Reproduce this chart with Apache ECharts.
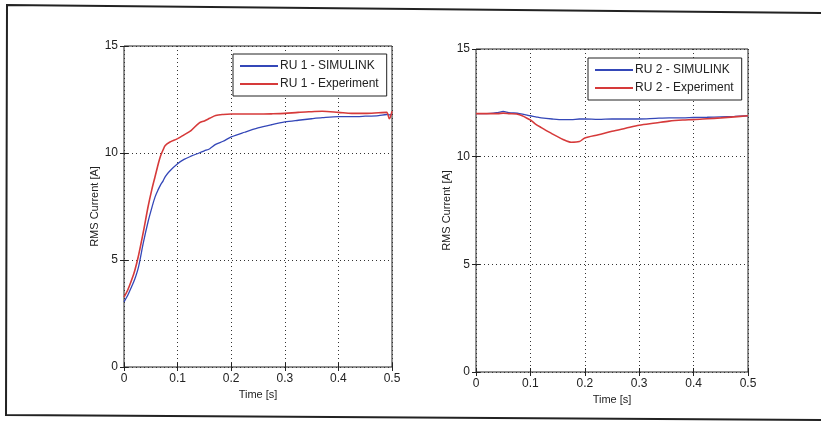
<!DOCTYPE html>
<html lang="en">
<head>
    <meta charset="UTF-8">
    <title>RMS Current</title>
    <style>
        body { margin: 0; padding: 0; background: #ffffff; }
        #chart { width: 821px; height: 422px; }
    </style>
</head>
<body>
    <div id="chart"></div>
    <script src="https://cdn.jsdelivr.net/npm/echarts@6/dist/echarts.min.js"></script>
    <script>
        // left panel (RU 1)
        var time1 = [0, 0.007, 0.014, 0.02, 0.027, 0.036, 0.045, 0.052, 0.058, 0.064, 0.068, 0.073, 0.077, 0.085,
            0.1, 0.112, 0.125, 0.14, 0.15, 0.16, 0.171, 0.185, 0.2, 0.225, 0.25, 0.275, 0.3, 0.325, 0.35, 0.37,
            0.4, 0.425, 0.45, 0.475, 0.49, 0.495, 0.5];
        var ru1Sim = [3.04, 3.35, 3.74, 4.1, 4.67, 5.8, 6.8, 7.45, 7.95, 8.3, 8.5, 8.7, 8.9, 9.15,
            9.5, 9.7, 9.85, 10.0, 10.1, 10.2, 10.4, 10.55, 10.75, 10.97, 11.17, 11.32, 11.45, 11.53, 11.6, 11.65,
            11.7, 11.7, 11.72, 11.75, 11.8, 11.78, 11.82];
        var ru1Exp = [3.27, 3.6, 4.05, 4.5, 5.2, 6.3, 7.5, 8.3, 8.9, 9.5, 9.85, 10.15, 10.35, 10.5,
            10.67, 10.85, 11.05, 11.4, 11.5, 11.62, 11.75, 11.8, 11.82, 11.82, 11.82, 11.83, 11.85, 11.9, 11.93, 11.95,
            11.9, 11.85, 11.85, 11.88, 11.9, 11.6, 11.95];

        // right panel (RU 2)
        var time2 = [0, 0.02, 0.04, 0.05, 0.06, 0.08, 0.1, 0.11, 0.12, 0.14, 0.16, 0.175, 0.19, 0.2,
            0.225, 0.25, 0.275, 0.3, 0.33, 0.355, 0.38, 0.4, 0.425, 0.45, 0.475, 0.5];
        var ru2Sim = [12.0, 12.0, 12.05, 12.1, 12.05, 12.0, 11.9, 11.85, 11.8, 11.75, 11.72, 11.72, 11.75, 11.75,
            11.73, 11.75, 11.75, 11.75, 11.78, 11.8, 11.8, 11.82, 11.83, 11.85, 11.87, 11.9];
        var ru2Exp = [12.0, 12.0, 12.0, 12.02, 12.0, 11.95, 11.7, 11.5, 11.35, 11.06, 10.8, 10.67, 10.7, 10.87,
            11.02, 11.18, 11.32, 11.46, 11.56, 11.65, 11.7, 11.72, 11.76, 11.8, 11.85, 11.9];

        var xTicks = [0, 0.1, 0.2, 0.3, 0.4, 0.5];
        var yTicks = [0, 5, 10, 15];

        var font = "'Liberation Sans Narrow', 'Liberation Sans', Arial, sans-serif";
        var blue = '#3447b8';
        var red = '#d63a3a';

        function pairs(t, v) {
            var out = [];
            for (var i = 0; i < t.length; i++) out.push([t[i], v[i]]);
            return out;
        }

        function xAxisFor(idx, isTop) {
            return {
                type: 'value', gridIndex: idx, min: xTicks[0], max: xTicks[xTicks.length - 1], interval: 0.1,
                position: isTop ? 'top' : 'bottom',
                name: isTop ? '' : 'Time [s]', nameLocation: 'middle', nameGap: 20,
                nameTextStyle: { fontFamily: font, fontSize: 11, color: '#222' },
                axisLine: { show: false },
                axisTick: { show: true, inside: true, length: 4, lineStyle: { color: '#222' } },
                axisLabel: { show: !isTop, fontFamily: font, fontSize: 12, color: '#222', margin: 6,
                    formatter: function (v) { return String(v); } },
                splitLine: { show: !isTop, lineStyle: { color: '#333', type: [1, 3], width: 1 } }
            };
        }

        function yAxisFor(idx, isRight) {
            return {
                type: 'value', gridIndex: idx, min: yTicks[0], max: yTicks[yTicks.length - 1], interval: 5,
                position: isRight ? 'right' : 'left',
                name: isRight ? '' : 'RMS Current [A]', nameLocation: 'middle', nameGap: 24,
                nameTextStyle: { fontFamily: font, fontSize: 11, color: '#222' },
                axisLine: { show: false },
                axisTick: { show: true, inside: true, length: 4, lineStyle: { color: '#222' } },
                axisLabel: { show: !isRight, fontFamily: font, fontSize: 12, color: '#222', margin: 6 },
                splitLine: { show: !isRight, lineStyle: { color: '#333', type: [1, 3], width: 1 } }
            };
        }

        function legendFor(names, left, top) {
            return {
                data: names, orient: 'vertical', left: left, top: top,
                backgroundColor: '#fff', borderColor: '#222', borderWidth: 1,
                padding: [6, 8, 6, 7], itemGap: 6, itemWidth: 38, itemHeight: 2, icon: 'rect',
                textStyle: { fontFamily: font, fontSize: 12, color: '#222', padding: [0, 0, 0, -3] }
            };
        }

        function lineSeries(name, xi, data, color, w) {
            return {
                name: name, type: 'line', xAxisIndex: xi, yAxisIndex: xi, data: data,
                symbol: 'none', smooth: 0.3, itemStyle: { color: color },
                lineStyle: { color: color, width: w }, z: 3
            };
        }

        var chart = echarts.init(document.getElementById('chart'));
        var option = {
            animation: false,
            backgroundColor: '#fff',
            grid: [
                { left: 124, top: 46, width: 268, height: 321, show: true, borderColor: '#222', borderWidth: 1, backgroundColor: 'transparent' },
                { left: 476, top: 49, width: 272, height: 323, show: true, borderColor: '#222', borderWidth: 1, backgroundColor: 'transparent' }
            ],
            xAxis: [xAxisFor(0, false), xAxisFor(1, false), xAxisFor(0, true), xAxisFor(1, true)],
            yAxis: [yAxisFor(0, false), yAxisFor(1, false), yAxisFor(0, true), yAxisFor(1, true)],
            legend: [
                legendFor(['RU 1 - SIMULINK', 'RU 1 - Experiment'], 233, 54),
                legendFor(['RU 2 - SIMULINK', 'RU 2 - Experiment'], 588, 58)
            ],
            series: [
                lineSeries('RU 1 - SIMULINK', 0, pairs(time1, ru1Sim), blue, 1.3),
                lineSeries('RU 1 - Experiment', 0, pairs(time1, ru1Exp), red, 1.6),
                lineSeries('RU 2 - SIMULINK', 1, pairs(time2, ru2Sim), blue, 1.3),
                lineSeries('RU 2 - Experiment', 1, pairs(time2, ru2Exp), red, 1.6)
            ],
            graphic: [
                {
                    type: 'polyline', silent: true,
                    shape: { points: [[821, 13], [7, 5], [6, 415], [821, 420]] },
                    style: { fill: null, stroke: '#222', lineWidth: 2 }
                }
            ]
        };
        chart.setOption(option);
    </script>
</body>
</html>
